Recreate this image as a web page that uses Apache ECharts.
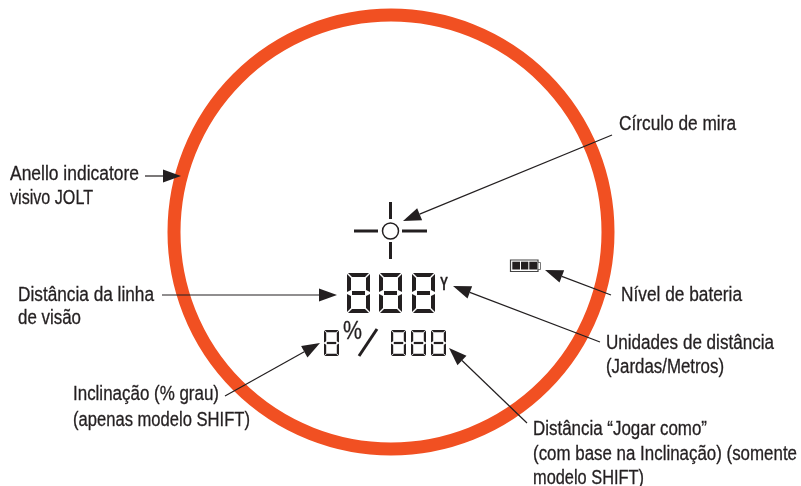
<!DOCTYPE html>
<html lang="pt">
<head>
    <meta charset="UTF-8">
    <title>Visor</title>
    <style>
        html, body { margin: 0; padding: 0; background: #fff; }
        #main { width: 801px; height: 486px; }
    </style>
    <script src="https://cdn.jsdelivr.net/npm/echarts@6/dist/echarts.min.js"></script>
</head>
<body>
<div id="main"></div>
<script>
    // valores, em unidades dos eixos (0-801, 0-486)
    var ring = [391, 232, 217];
    // x1, y1, ponta x, ponta y
    var arrows = [
        [612, 135, 403, 221],
        [145, 176, 181, 176],
        [162, 295, 337, 295],
        [225, 396, 320, 343],
        [600, 342, 453, 286],
        [611, 295, 545, 270],
        [527, 423, 449, 348]
    ];
    var reticleLines = [
        [354, 231, 378, 231],
        [402, 231, 427, 231],
        [390.5, 202, 390.5, 219],
        [390.5, 242, 390.5, 259]
    ];
    var reticleCircle = [390.5, 231, 8];
    // x, y, largura, altura, espessura
    var digits = [
        [347, 273, 23, 40, 4],
        [379, 273, 23, 40, 4],
        [412, 273, 23, 40, 4],
        [324, 330, 15, 26, 2.2],
        [391, 330, 15, 26, 2.2],
        [411, 330, 15, 26, 2.2],
        [431, 330, 15, 26, 2.2]
    ];
    var slash = [359, 356, 377, 329];
    var batteryBox = [510.5, 260, 27.5, 11.5];
    var batteryNub = [538, 262.5, 2.5, 7];
    var batteryCells = [
        [512.3, 261.7, 7.7, 7.8],
        [521, 261.7, 7.3, 7.8],
        [529.3, 261.7, 7.7, 7.8]
    ];
    // x inicial, x final, y central, texto
    var labels = [
        [619, 736, 124, 'Círculo de mira'],
        [10, 139, 174, 'Anello indicatore'],
        [10, 93, 198, 'visivo JOLT'],
        [621, 742, 295, 'Nível de bateria'],
        [18, 154, 295, 'Distância da linha'],
        [18, 81, 318, 'de visão'],
        [606, 774, 343, 'Unidades de distância'],
        [606, 724, 367, '(Jardas/Metros)'],
        [73, 219, 394, 'Inclinação (% grau)'],
        [73, 250, 420, '(apenas modelo SHIFT)'],
        [533, 707, 429, 'Distância “Jogar como”'],
        [533, 797, 454, '(com base na Inclinação) (somente'],
        [533, 644, 478, 'modelo SHIFT)']
    ];
    // x inicial, x final, y central, texto, tamanho, peso
    var displayMarks = [
        [343, 362, 332, '%', 26, 'normal'],
        [440, 448, 285, 'Y', 19, 'bold']
    ];

    var INK = '#231f20';
    var ORANGE = '#f15022';
    var FONT = '"Liberation Sans", sans-serif';

    var measure = document.createElement('canvas').getContext('2d');

    // texto comprimido ate a largura
    function fittedText(api, x0, x1, y, str, size, weight) {
        var font = weight + ' ' + size + 'px ' + FONT;
        measure.font = font;
        var q = api.coord([x0, y]);
        var end = api.coord([x1, y]);
        return {type: 'text', x: q[0], y: q[1], scaleX: (end[0] - q[0]) / measure.measureText(str).width,
            style: {text: str, fill: INK, stroke: INK, lineWidth: 0.3, font: font,
                textVerticalAlign: 'middle', textAlign: 'left'}};
    }

    // sete segmentos de um digito, como poligonos
    function digitPolys(d) {
        var x = d[0], y = d[1], w = d[2], h = d[3], t = d[4];
        var g = t * 0.25, m = y + h / 2;
        return [
            [[x + g, y], [x + w - g, y], [x + w - t - g, y + t], [x + t + g, y + t]],
            [[x + g, y + h], [x + w - g, y + h], [x + w - t - g, y + h - t], [x + t + g, y + h - t]],
            [[x + t + g, m - t / 2], [x + w - t - g, m - t / 2], [x + w - t - g, m + t / 2], [x + t + g, m + t / 2]],
            [[x, y + g], [x + t, y + t + g], [x + t, m - t / 2 - g], [x, m - g]],
            [[x + w, y + g], [x + w - t, y + t + g], [x + w - t, m - t / 2 - g], [x + w, m - g]],
            [[x, m + g], [x + t, m + t / 2 + g], [x + t, y + h - t - g], [x, y + h - g]],
            [[x + w, m + g], [x + w - t, m + t / 2 + g], [x + w - t, y + h - t - g], [x + w, y + h - g]]
        ];
    }

    function renderAll(params, api) {
        function p(x, y) { return api.coord([x, y]); }
        function line(s, w) {
            var a = p(s[0], s[1]), b = p(s[2], s[3]);
            return {type: 'line', shape: {x1: a[0], y1: a[1], x2: b[0], y2: b[1]},
                style: {stroke: INK, lineWidth: w}};
        }
        function rect(r, style) {
            var a = p(r[0], r[1]), b = p(r[0] + r[2], r[1] + r[3]);
            return {type: 'rect', shape: {x: a[0], y: a[1], width: b[0] - a[0], height: b[1] - a[1]}, style: style};
        }
        var kids = [];
        // anel
        var c = p(ring[0], ring[1]);
        kids.push({type: 'circle', shape: {cx: c[0], cy: c[1], r: ring[2]},
            style: {fill: 'none', stroke: ORANGE, lineWidth: 13}});
        // mira
        reticleLines.forEach(function (s) { kids.push(line(s, 3)); });
        var rc = p(reticleCircle[0], reticleCircle[1]);
        kids.push({type: 'circle', shape: {cx: rc[0], cy: rc[1], r: reticleCircle[2]},
            style: {fill: '#fff', stroke: INK, lineWidth: 1.5}});
        // digitos
        digits.forEach(function (d) {
            digitPolys(d).forEach(function (poly) {
                kids.push({type: 'polygon', shape: {points: poly.map(function (q) { return p(q[0], q[1]); })},
                    style: {fill: INK}});
            });
        });
        kids.push(line(slash, 3));
        displayMarks.forEach(function (m) {
            kids.push(fittedText(api, m[0], m[1], m[2], m[3], m[4], m[5]));
        });
        // bateria
        kids.push(rect(batteryBox, {fill: '#fff', stroke: '#444', lineWidth: 1.2}));
        kids.push(rect(batteryNub, {fill: '#fff', stroke: '#555', lineWidth: 0.8}));
        batteryCells.forEach(function (r) { kids.push(rect(r, {fill: INK})); });
        // setas
        arrows.forEach(function (s) {
            var a = p(s[0], s[1]), b = p(s[2], s[3]);
            var dx = b[0] - a[0], dy = b[1] - a[1], len = Math.sqrt(dx * dx + dy * dy);
            var ux = dx / len, uy = dy / len, hl = 18, hw = 6.5;
            kids.push({type: 'line', shape: {x1: a[0], y1: a[1], x2: b[0] - ux * hl, y2: b[1] - uy * hl},
                style: {stroke: INK, lineWidth: 1.2}});
            kids.push({type: 'polygon', shape: {points: [
                [b[0], b[1]],
                [b[0] - ux * hl - uy * hw, b[1] - uy * hl + ux * hw],
                [b[0] - ux * hl + uy * hw, b[1] - uy * hl - ux * hw]
            ]}, style: {fill: INK}});
        });
        // textos
        labels.forEach(function (l) {
            kids.push(fittedText(api, l[0], l[1], l[2], l[3], 20, 'normal'));
        });
        return {type: 'group', children: kids};
    }

    var myChart = echarts.init(document.getElementById('main'));
    myChart.setOption({
        animation: false,
        backgroundColor: '#fff',
        grid: {left: 0, right: 0, top: 0, bottom: 0},
        xAxis: {type: 'value', min: 0, max: 801, show: false},
        yAxis: {type: 'value', min: 0, max: 486, inverse: true, show: false},
        series: [{
            type: 'custom',
            coordinateSystem: 'cartesian2d',
            silent: true,
            clip: false,
            data: [[0, 0]],
            renderItem: renderAll
        }]
    });
</script>
</body>
</html>
